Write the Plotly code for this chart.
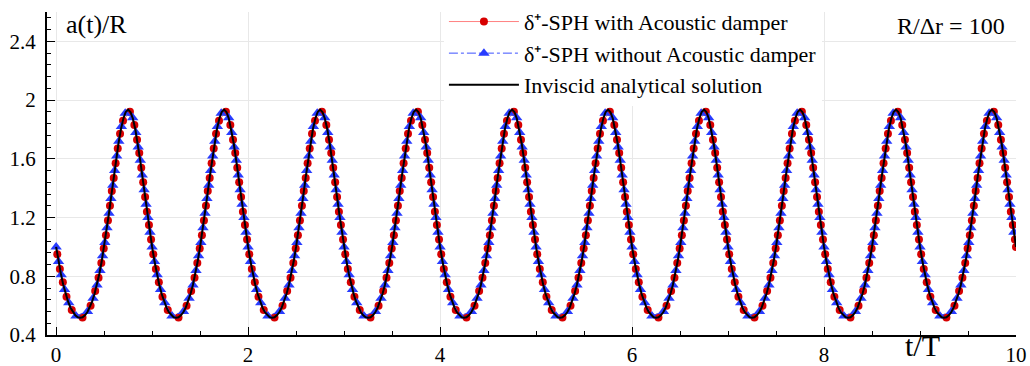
import plotly.graph_objects as go

# ---------------- data ----------------
# Inviscid analytical solution, sampled every 0.025 t/T
t_line = [i / 40 for i in range(401)]
a_line = [
    1.000,0.902,0.816,0.741,0.679,0.627,0.586,0.555,0.534,0.521,0.517,0.521,0.534,0.555,0.586,0.627,0.679,0.741,0.816,0.902,1.000,1.109,1.226,1.349,1.474,1.595,1.706,1.801,1.873,1.919,1.935,1.919,1.873,1.801,1.706,1.595,1.474,1.349,1.226,1.109,
    1.000,0.902,0.816,0.741,0.679,0.627,0.586,0.555,0.534,0.521,0.517,0.521,0.534,0.555,0.586,0.627,0.679,0.741,0.816,0.902,1.000,1.109,1.226,1.349,1.474,1.595,1.706,1.801,1.873,1.919,1.935,1.919,1.873,1.801,1.706,1.595,1.474,1.349,1.226,1.109,
    1.000,0.902,0.816,0.741,0.679,0.627,0.586,0.555,0.534,0.521,0.517,0.521,0.534,0.555,0.586,0.627,0.679,0.741,0.816,0.902,1.000,1.109,1.226,1.349,1.474,1.595,1.706,1.801,1.873,1.919,1.935,1.919,1.873,1.801,1.706,1.595,1.474,1.349,1.226,1.109,
    1.000,0.902,0.816,0.741,0.679,0.627,0.586,0.555,0.534,0.521,0.517,0.521,0.534,0.555,0.586,0.627,0.679,0.741,0.816,0.902,1.000,1.109,1.226,1.349,1.474,1.595,1.706,1.801,1.873,1.919,1.935,1.919,1.873,1.801,1.706,1.595,1.474,1.349,1.226,1.109,
    1.000,0.902,0.816,0.741,0.679,0.627,0.586,0.555,0.534,0.521,0.517,0.521,0.534,0.555,0.586,0.627,0.679,0.741,0.816,0.902,1.000,1.109,1.226,1.349,1.474,1.595,1.706,1.801,1.873,1.919,1.935,1.919,1.873,1.801,1.706,1.595,1.474,1.349,1.226,1.109,
    1.000,0.902,0.816,0.741,0.679,0.627,0.586,0.555,0.534,0.521,0.517,0.521,0.534,0.555,0.586,0.627,0.679,0.741,0.816,0.902,1.000,1.109,1.226,1.349,1.474,1.595,1.706,1.801,1.873,1.919,1.935,1.919,1.873,1.801,1.706,1.595,1.474,1.349,1.226,1.109,
    1.000,0.902,0.816,0.741,0.679,0.627,0.586,0.555,0.534,0.521,0.517,0.521,0.534,0.555,0.586,0.627,0.679,0.741,0.816,0.902,1.000,1.109,1.226,1.349,1.474,1.595,1.706,1.801,1.873,1.919,1.935,1.919,1.873,1.801,1.706,1.595,1.474,1.349,1.226,1.109,
    1.000,0.902,0.816,0.741,0.679,0.627,0.586,0.555,0.534,0.521,0.517,0.521,0.534,0.555,0.586,0.627,0.679,0.741,0.816,0.902,1.000,1.109,1.226,1.349,1.474,1.595,1.706,1.801,1.873,1.919,1.935,1.919,1.873,1.801,1.706,1.595,1.474,1.349,1.226,1.109,
    1.000,0.902,0.816,0.741,0.679,0.627,0.586,0.555,0.534,0.521,0.517,0.521,0.534,0.555,0.586,0.627,0.679,0.741,0.816,0.902,1.000,1.109,1.226,1.349,1.474,1.595,1.706,1.801,1.873,1.919,1.935,1.919,1.873,1.801,1.706,1.595,1.474,1.349,1.226,1.109,
    1.000,0.902,0.816,0.741,0.679,0.627,0.586,0.555,0.534,0.521,0.517,0.521,0.534,0.555,0.586,0.627,0.679,0.741,0.816,0.902,1.000,1.109,1.226,1.349,1.474,1.595,1.706,1.801,1.873,1.919,1.935,1.919,1.873,1.801,1.706,1.595,1.474,1.349,1.226,1.109,
    1.000,
]

# delta+-SPH without acoustic damper (blue triangles)
t_blue = [
    0.000,0.025,0.053,0.088,0.132,0.207,0.327,0.385,0.426,0.457,0.484,0.508,0.530,0.551,0.571,0.590,0.610,0.631,0.653,0.680,0.720,0.798,0.830,0.855,0.877,0.897,0.917,0.937,0.957,0.978,
    1.000,1.025,1.053,1.088,1.132,1.207,1.327,1.385,1.426,1.457,1.484,1.508,1.530,1.551,1.571,1.590,1.610,1.631,1.653,1.680,1.720,1.798,1.830,1.855,1.877,1.897,1.917,1.937,1.957,1.978,
    2.000,2.025,2.053,2.088,2.132,2.207,2.327,2.385,2.426,2.457,2.484,2.508,2.530,2.551,2.571,2.590,2.610,2.631,2.653,2.680,2.720,2.798,2.830,2.855,2.877,2.897,2.917,2.937,2.957,2.978,
    3.000,3.025,3.053,3.088,3.132,3.207,3.327,3.385,3.426,3.457,3.484,3.508,3.530,3.551,3.571,3.590,3.610,3.631,3.653,3.680,3.720,3.798,3.830,3.855,3.877,3.897,3.917,3.937,3.957,3.978,
    4.000,4.025,4.053,4.088,4.132,4.207,4.327,4.385,4.426,4.457,4.484,4.508,4.530,4.551,4.571,4.590,4.610,4.631,4.653,4.680,4.720,4.798,4.830,4.855,4.877,4.897,4.917,4.937,4.957,4.978,
    5.000,5.025,5.053,5.088,5.132,5.207,5.327,5.385,5.426,5.457,5.484,5.508,5.530,5.551,5.571,5.590,5.610,5.631,5.653,5.680,5.720,5.798,5.830,5.855,5.877,5.897,5.917,5.937,5.957,5.978,
    6.000,6.025,6.053,6.088,6.132,6.207,6.327,6.385,6.426,6.457,6.484,6.508,6.530,6.551,6.571,6.590,6.610,6.631,6.653,6.680,6.720,6.798,6.830,6.855,6.877,6.897,6.917,6.937,6.957,6.978,
    7.000,7.025,7.053,7.088,7.132,7.207,7.327,7.385,7.426,7.457,7.484,7.508,7.530,7.551,7.571,7.590,7.610,7.631,7.653,7.680,7.720,7.798,7.830,7.855,7.877,7.897,7.917,7.937,7.957,7.978,
    8.000,8.025,8.053,8.088,8.132,8.207,8.327,8.385,8.426,8.457,8.484,8.508,8.530,8.551,8.571,8.590,8.610,8.631,8.653,8.680,8.720,8.798,8.830,8.855,8.877,8.897,8.917,8.937,8.957,8.978,
    9.000,9.025,9.053,9.088,9.132,9.207,9.327,9.385,9.426,9.457,9.484,9.508,9.530,9.551,9.571,9.590,9.610,9.631,9.653,9.680,9.720,9.798,9.830,9.855,9.877,9.897,9.917,9.937,9.957,9.978,
]
a_blue = [
    1.00,0.90,0.81,0.71,0.62,0.53,0.56,0.65,0.74,0.84,0.94,1.03,1.13,1.23,1.33,1.42,1.52,1.62,1.72,1.82,1.91,1.88,1.78,1.68,1.59,1.49,1.39,1.29,1.20,1.10,
    1.00,0.90,0.81,0.71,0.62,0.53,0.56,0.65,0.74,0.84,0.94,1.03,1.13,1.23,1.33,1.42,1.52,1.62,1.72,1.82,1.91,1.88,1.78,1.68,1.59,1.49,1.39,1.29,1.20,1.10,
    1.00,0.90,0.81,0.71,0.62,0.53,0.56,0.65,0.74,0.84,0.94,1.03,1.13,1.23,1.33,1.42,1.52,1.62,1.72,1.82,1.91,1.88,1.78,1.68,1.59,1.49,1.39,1.29,1.20,1.10,
    1.00,0.90,0.81,0.71,0.62,0.53,0.56,0.65,0.74,0.84,0.94,1.03,1.13,1.23,1.33,1.42,1.52,1.62,1.72,1.82,1.91,1.88,1.78,1.68,1.59,1.49,1.39,1.29,1.20,1.10,
    1.00,0.90,0.81,0.71,0.62,0.53,0.56,0.65,0.74,0.84,0.94,1.03,1.13,1.23,1.33,1.42,1.52,1.62,1.72,1.82,1.91,1.88,1.78,1.68,1.59,1.49,1.39,1.29,1.20,1.10,
    1.00,0.90,0.81,0.71,0.62,0.53,0.56,0.65,0.74,0.84,0.94,1.03,1.13,1.23,1.33,1.42,1.52,1.62,1.72,1.82,1.91,1.88,1.78,1.68,1.59,1.49,1.39,1.29,1.20,1.10,
    1.00,0.90,0.81,0.71,0.62,0.53,0.56,0.65,0.74,0.84,0.94,1.03,1.13,1.23,1.33,1.42,1.52,1.62,1.72,1.82,1.91,1.88,1.78,1.68,1.59,1.49,1.39,1.29,1.20,1.10,
    1.00,0.90,0.81,0.71,0.62,0.53,0.56,0.65,0.74,0.84,0.94,1.03,1.13,1.23,1.33,1.42,1.52,1.62,1.72,1.82,1.91,1.88,1.78,1.68,1.59,1.49,1.39,1.29,1.20,1.10,
    1.00,0.90,0.81,0.71,0.62,0.53,0.56,0.65,0.74,0.84,0.94,1.03,1.13,1.23,1.33,1.42,1.52,1.62,1.72,1.82,1.91,1.88,1.78,1.68,1.59,1.49,1.39,1.29,1.20,1.10,
    1.00,0.90,0.81,0.71,0.62,0.53,0.56,0.65,0.74,0.84,0.94,1.03,1.13,1.23,1.33,1.42,1.52,1.62,1.72,1.82,1.91,1.88,1.78,1.68,1.59,1.49,1.39,1.29,1.20,1.10,
]

# delta+-SPH with acoustic damper (red circles)
t_red = [
    0.012,0.039,0.070,0.108,0.163,0.275,0.359,0.407,0.442,0.471,0.496,0.519,0.540,0.561,0.580,0.600,0.620,0.642,0.666,0.697,0.769,0.815,0.843,0.866,0.887,0.907,0.927,0.946,0.967,0.989,
    1.012,1.039,1.070,1.108,1.163,1.275,1.359,1.407,1.442,1.471,1.496,1.519,1.540,1.561,1.580,1.600,1.620,1.642,1.666,1.697,1.769,1.815,1.843,1.866,1.887,1.907,1.927,1.946,1.967,1.989,
    2.012,2.039,2.070,2.108,2.163,2.275,2.359,2.407,2.442,2.471,2.496,2.519,2.540,2.561,2.580,2.600,2.620,2.642,2.666,2.697,2.769,2.815,2.843,2.866,2.887,2.907,2.927,2.946,2.967,2.989,
    3.012,3.039,3.070,3.108,3.163,3.275,3.359,3.407,3.442,3.471,3.496,3.519,3.540,3.561,3.580,3.600,3.620,3.642,3.666,3.697,3.769,3.815,3.843,3.866,3.887,3.907,3.927,3.946,3.967,3.989,
    4.012,4.039,4.070,4.108,4.163,4.275,4.359,4.407,4.442,4.471,4.496,4.519,4.540,4.561,4.580,4.600,4.620,4.642,4.666,4.697,4.769,4.815,4.843,4.866,4.887,4.907,4.927,4.946,4.967,4.989,
    5.012,5.039,5.070,5.108,5.163,5.275,5.359,5.407,5.442,5.471,5.496,5.519,5.540,5.561,5.580,5.600,5.620,5.642,5.666,5.697,5.769,5.815,5.843,5.866,5.887,5.907,5.927,5.946,5.967,5.989,
    6.012,6.039,6.070,6.108,6.163,6.275,6.359,6.407,6.442,6.471,6.496,6.519,6.540,6.561,6.580,6.600,6.620,6.642,6.666,6.697,6.769,6.815,6.843,6.866,6.887,6.907,6.927,6.946,6.967,6.989,
    7.012,7.039,7.070,7.108,7.163,7.275,7.359,7.407,7.442,7.471,7.496,7.519,7.540,7.561,7.580,7.600,7.620,7.642,7.666,7.697,7.769,7.815,7.843,7.866,7.887,7.907,7.927,7.946,7.967,7.989,
    8.012,8.039,8.070,8.108,8.163,8.275,8.359,8.407,8.442,8.471,8.496,8.519,8.540,8.561,8.580,8.600,8.620,8.642,8.666,8.697,8.769,8.815,8.843,8.866,8.887,8.907,8.927,8.946,8.967,8.989,
    9.012,9.039,9.070,9.108,9.163,9.275,9.359,9.407,9.442,9.471,9.496,9.519,9.540,9.561,9.580,9.600,9.620,9.642,9.666,9.697,9.769,9.815,9.843,9.866,9.887,9.907,9.927,9.946,9.967,9.989,
    10.000,
]
a_red = [
    0.95,0.85,0.76,0.66,0.57,0.52,0.60,0.70,0.79,0.89,0.99,1.08,1.18,1.28,1.38,1.47,1.57,1.67,1.77,1.86,1.92,1.83,1.73,1.64,1.54,1.44,1.34,1.24,1.15,1.05,
    0.95,0.85,0.76,0.66,0.57,0.52,0.60,0.70,0.79,0.89,0.99,1.08,1.18,1.28,1.38,1.47,1.57,1.67,1.77,1.86,1.92,1.83,1.73,1.64,1.54,1.44,1.34,1.24,1.15,1.05,
    0.95,0.85,0.76,0.66,0.57,0.52,0.60,0.70,0.79,0.89,0.99,1.08,1.18,1.28,1.38,1.47,1.57,1.67,1.77,1.86,1.92,1.83,1.73,1.64,1.54,1.44,1.34,1.24,1.15,1.05,
    0.95,0.85,0.76,0.66,0.57,0.52,0.60,0.70,0.79,0.89,0.99,1.08,1.18,1.28,1.38,1.47,1.57,1.67,1.77,1.86,1.92,1.83,1.73,1.64,1.54,1.44,1.34,1.24,1.15,1.05,
    0.95,0.85,0.76,0.66,0.57,0.52,0.60,0.70,0.79,0.89,0.99,1.08,1.18,1.28,1.38,1.47,1.57,1.67,1.77,1.86,1.92,1.83,1.73,1.64,1.54,1.44,1.34,1.24,1.15,1.05,
    0.95,0.85,0.76,0.66,0.57,0.52,0.60,0.70,0.79,0.89,0.99,1.08,1.18,1.28,1.38,1.47,1.57,1.67,1.77,1.86,1.92,1.83,1.73,1.64,1.54,1.44,1.34,1.24,1.15,1.05,
    0.95,0.85,0.76,0.66,0.57,0.52,0.60,0.70,0.79,0.89,0.99,1.08,1.18,1.28,1.38,1.47,1.57,1.67,1.77,1.86,1.92,1.83,1.73,1.64,1.54,1.44,1.34,1.24,1.15,1.05,
    0.95,0.85,0.76,0.66,0.57,0.52,0.60,0.70,0.79,0.89,0.99,1.08,1.18,1.28,1.38,1.47,1.57,1.67,1.77,1.86,1.92,1.83,1.73,1.64,1.54,1.44,1.34,1.24,1.15,1.05,
    0.95,0.85,0.76,0.66,0.57,0.52,0.60,0.70,0.79,0.89,0.99,1.08,1.18,1.28,1.38,1.47,1.57,1.67,1.77,1.86,1.92,1.83,1.73,1.64,1.54,1.44,1.34,1.24,1.15,1.05,
    0.95,0.85,0.76,0.66,0.57,0.52,0.60,0.70,0.79,0.89,0.99,1.08,1.18,1.28,1.38,1.47,1.57,1.67,1.77,1.86,1.92,1.83,1.73,1.64,1.54,1.44,1.34,1.24,1.15,1.05,
    1.00,
]

x_tickvals = [0, 2, 4, 6, 8, 10]
x_ticktext = ["0", "2", "4", "6", "8", "10"]
y_tickvals = [0.4, 0.8, 1.2, 1.6, 2.0, 2.4]
y_ticktext = ["0.4", "0.8", "1.2", "1.6", "2", "2.4"]

name_red = "δ⁺-SPH with Acoustic damper"
name_blue = "δ⁺-SPH without Acoustic damper"
name_black = "Inviscid analytical solution"

SERIF = "Liberation Serif"

# ---------------- figure ----------------
fig = go.Figure()
fig.add_trace(go.Scatter(
    x=t_red, y=a_red, name=name_red, mode="lines+markers",
    line=dict(color="rgb(255,130,130)", width=1),
    marker=dict(symbol="circle", size=8, color="rgb(215,0,0)"),
))
fig.add_trace(go.Scatter(
    x=t_blue, y=a_blue, name=name_blue, mode="lines+markers",
    line=dict(color="rgb(60,80,255)", width=1, dash="dashdot"),
    marker=dict(symbol="triangle-up", size=10, color="rgb(40,60,255)"),
))
fig.add_trace(go.Scatter(
    x=t_line, y=a_line, name=name_black, mode="lines",
    line=dict(color="black", width=2),
))

axis_common = dict(
    showline=True, linecolor="black", linewidth=2, mirror=False,
    ticks="inside", tickcolor="black", tickwidth=1, ticklen=8,
    showgrid=True, gridcolor="rgb(232,232,232)", gridwidth=1,
    zeroline=False, automargin=False,
    tickfont=dict(family=SERIF, size=21, color="black"),
)

fig.update_xaxes(
    range=[-0.095, 10.0], tickmode="array", tickvals=x_tickvals, ticktext=x_ticktext,
    minor=dict(dtick=0.5, tick0=0, ticks="inside", ticklen=4, tickcolor="black", showgrid=False),
    **axis_common,
)
fig.update_yaxes(
    range=[0.4, 2.6], tickmode="array", tickvals=y_tickvals, ticktext=y_ticktext,
    minor=dict(dtick=0.08, tick0=0.4, ticks="inside", ticklen=4, tickcolor="black", showgrid=False),
    ticklabelstandoff=5,
    **axis_common,
)

fig.update_layout(
    width=1030, height=366,
    margin=dict(l=47, r=14, t=12, b=31, autoexpand=False),
    paper_bgcolor="white", plot_bgcolor="white",
    font=dict(family=SERIF, color="black"),
    showlegend=True,
    legend=dict(
        xref="container", yref="container",
        x=0.431, y=0.998, xanchor="left", yanchor="top",
        bgcolor="white", borderwidth=0,
        font=dict(family=SERIF, size=22, color="black"),
        itemwidth=70, tracegroupgap=0,
    ),
    annotations=[
        dict(text="a(t)/R", xref="paper", yref="paper", x=0.018, y=0.96,
             xanchor="left", yanchor="middle", showarrow=False,
             font=dict(family=SERIF, size=26, color="black")),
        dict(text="R/Δr = 100", xref="paper", yref="paper", x=0.933, y=0.957,
             xanchor="center", yanchor="middle", showarrow=False,
             font=dict(family=SERIF, size=24, color="black")),
        dict(text="t/T", xref="paper", yref="paper", x=0.903, y=-0.091,
             xanchor="center", yanchor="bottom", showarrow=False,
             font=dict(family=SERIF, size=30, color="black")),
    ],
)

# remove the default page margin so the figure fills the 1030x366 window exactly
fig.write_html(
    "out.html",
    config={"displayModeBar": False},
    post_script="document.body.style.margin='0';document.body.style.overflow='hidden';",
)
